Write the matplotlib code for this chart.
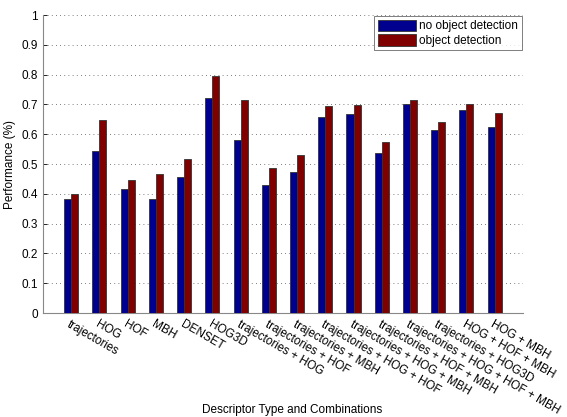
import matplotlib
matplotlib.use('Agg')
import matplotlib.pyplot as plt
import numpy as np

# descriptor types and combinations
categories = ["trajectories", "HOG", "HOF", "MBH", "DENSET", "HOG3D",
              "trajectories + HOG", "trajectories + HOF", "trajectories + MBH",
              "trajectories + HOG + HOF", "trajectories + HOG + MBH",
              "trajectories + HOF + MBH", "trajectories + HOG + HOF + MBH",
              "trajectories + HOG3D", "HOG + HOF + MBH", "HOG + MBH"]
no_detection = [0.382, 0.543, 0.415, 0.382, 0.458, 0.720, 0.581, 0.430,
                0.472, 0.657, 0.667, 0.538, 0.703, 0.615, 0.682, 0.623]
with_detection = [0.398, 0.647, 0.448, 0.468, 0.518, 0.797, 0.716, 0.485,
                  0.530, 0.695, 0.698, 0.575, 0.715, 0.640, 0.700, 0.670]

plt.rcParams['font.family'] = ['Liberation Sans', 'DejaVu Sans']

fig = plt.figure(figsize=(5.67, 4.17), dpi=100)
ax = fig.add_axes([0.0758, 0.2494, 0.8464, 0.7146])

x = np.arange(1, len(categories) + 1)
w = 0.25
ax.bar(x - w / 2, no_detection, w, color='#00008F', edgecolor='#333333',
       linewidth=0.6, label='no object detection', zorder=3)
ax.bar(x + w / 2, with_detection, w, color='#800000', edgecolor='#333333',
       linewidth=0.6, label='object detection', zorder=3)

ax.set_xlim(0, 17)
ax.set_ylim(0, 1)
ax.set_yticks(np.arange(0, 1.01, 0.1))
ax.set_yticklabels(['%g' % round(v, 1) for v in np.arange(0, 1.01, 0.1)])
ax.set_xticks(x)
ax.set_xticklabels(categories, rotation=-30, ha='left', va='top',
                   rotation_mode='anchor', fontsize=8.5)
ax.tick_params(axis='both', direction='in', labelsize=8.5, length=3, width=0.6)
ax.tick_params(axis='x', pad=4)
ax.yaxis.grid(True, linestyle=(0, (1, 4)), color='#555555', linewidth=0.6, zorder=0)
ax.set_axisbelow(True)
for s in ['top', 'right']:
    ax.spines[s].set_visible(False)
for s in ['left', 'bottom']:
    ax.spines[s].set_color('#888888')
    ax.spines[s].set_linewidth(0.8)

ax.set_ylabel('Performance (%)', fontsize=8.5)
ax.set_xlabel('Descriptor Type and Combinations', fontsize=8.5, va='center')
ax.xaxis.set_label_coords(0.52, -0.325)

leg = ax.legend(loc='upper right', fontsize=8.5, frameon=True, fancybox=False,
                handlelength=3.2, handleheight=1.1, handletextpad=0.3,
                borderpad=0.3, labelspacing=0.15, borderaxespad=0.1)
leg.get_frame().set_edgecolor('#444444')
leg.get_frame().set_linewidth(0.6)

fig.savefig('out.png', dpi=100)
